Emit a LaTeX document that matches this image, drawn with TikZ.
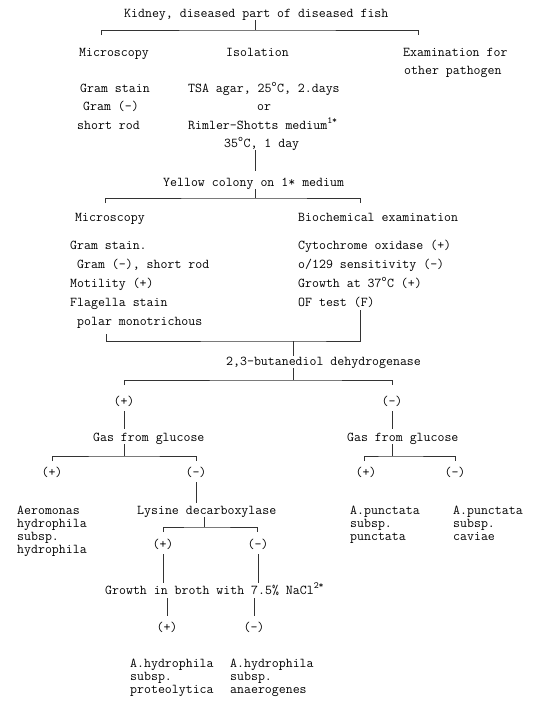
\documentclass[tikz,border=0pt]{standalone}
\usepackage{fontspec}

\begin{document}
\begin{tikzpicture}[x=1pt,y=-1pt,
  font=\ttfamily\fontsize{13.5}{15}\selectfont,
  txt/.style={inner sep=0pt,anchor=base west},
  ctr/.style={inner sep=0pt,anchor=base},
  link/.style={line width=.6pt,black!80}]
\useasboundingbox (0,0) rectangle (550,713);
\fill[white] (0,0) rectangle (550,713);

% sample and first split
\node[txt] (kidney) at (124,17) {Kidney, diseased part of diseased fish};
\node[txt] (micA) at (79,56) {Microscopy};
\node[txt] (iso) at (226,56) {Isolation};
\node[txt] (exam) at (403,56) {Examination for};
\node[txt] (examB) at (404,74) {other pathogen};
\coordinate (splitA) at (255,30);
\coordinate (tickA1) at (101,35);
\coordinate (tickA2) at (418,35);
\draw[link] (kidney.south -| splitA) -- (splitA);
\draw[link] (tickA1) |- (splitA) -| (tickA2);

% isolation
\node[txt] (gramA1) at (80,92) {Gram stain};
\node[txt] (gramA2) at (83,110) {Gram (-)};
\node[txt] (gramA3) at (77,129) {short rod};
\node[txt] (tsa) at (188,92) {TSA agar, 25\textsuperscript{o}C, 2.days};
\node[txt] (orr) at (257,110) {or};
\node[txt] (rimler) at (188,129) {Rimler-Shotts medium\textsuperscript{1*}};
\node[txt] (rimtemp) at (224,147) {35\textsuperscript{o}C, 1 day};
\node[txt] (yellow) at (163,186) {Yellow colony on 1* medium};
\draw[link,shorten >=6pt] (rimtemp.south -| splitA) -- (yellow.north -| splitA);

% second split
\coordinate (splitB) at (255,198);
\coordinate (tickB1) at (105,203);
\coordinate (tickB2) at (360,203);
\draw[link] (yellow.south -| splitB) -- (splitB);
\draw[link] (tickB1) |- (splitB) -| (tickB2);
\node[txt] (micB) at (75,221) {Microscopy};
\node[txt] (bio) at (298,221) {Biochemical examination};
\foreach \t/\x [count=\i] in {{Gram stain.}/70,{Gram (-), short rod}/77,
    {Motility (+)}/70,{Flagella stain}/70,{polar monotrichous}/77}
  \node[txt] (micR\i) at (\x,230+19*\i) {\t};
\foreach \t [count=\i] in {{Cytochrome oxidase (+)},{o/129 sensitivity (-)},
    {Growth at 37\textsuperscript{o}C (+)},{OF test (F)}}
  \node[txt] (bioR\i) at (298,230+19*\i) {\t};

% merge, 2,3-butanediol dehydrogenase
\coordinate (joinC) at (293,341);
\coordinate (tickC1) at (106,334);
\coordinate (tickC2) at (360,310);
\draw[link] (tickC1) |- (joinC) -| (tickC2);
\node[txt] (butane) at (226,365) {2,3-butanediol dehydrogenase};
\draw[link] (joinC) -- (butane.north -| joinC);
\coordinate (splitD) at (293,380);
\coordinate (tickD1) at (124,385);
\coordinate (tickD2) at (392,385);
\draw[link] (butane.south -| splitD) -- (splitD);
\draw[link] (tickD1) |- (splitD) -| (tickD2);
\node[ctr] (bdhPos) at (124,405) {(+)};
\node[ctr] (bdhNeg) at (392,405) {(-)};

% gas from glucose
\node[txt] (gasL) at (93,441) {Gas from glucose};
\node[txt] (gasR) at (347,441) {Gas from glucose};
\draw[link,shorten <=5pt,shorten >=3pt] (bdhPos.south) -- (gasL.north -| bdhPos);
\draw[link,shorten <=5pt,shorten >=3pt] (bdhNeg.south) -- (gasR.north -| bdhNeg);
\coordinate (splitE) at (124,456);
\coordinate (tickE1) at (52,461);
\coordinate (tickE2) at (196,461);
\draw[link] (gasL.south -| splitE) -- (splitE);
\draw[link] (tickE1) |- (splitE) -| (tickE2);
\coordinate (splitF) at (392,456);
\coordinate (tickF1) at (364,461);
\coordinate (tickF2) at (455,461);
\draw[link] (gasR.south -| splitF) -- (splitF);
\draw[link] (tickF1) |- (splitF) -| (tickF2);
\node[ctr] (gasLPos) at (52,476) {(+)};
\node[ctr] (gasLNeg) at (196,476) {(-)};
\node[ctr] (gasRPos) at (366,476) {(+)};
\node[ctr] (gasRNeg) at (455,476) {(-)};

% species, first level
\foreach \t [count=\i] in {Aeromonas,hydrophila,subsp.,hydrophila}
  \node[txt] (aerHyd\i) at (17,500.7+13.3*\i) {\t};
\foreach \t [count=\i] in {A.punctata,subsp.,punctata}
  \node[txt] (punPun\i) at (350,500.7+13.3*\i) {\t};
\foreach \t [count=\i] in {A.punctata,subsp.,caviae}
  \node[txt] (punCav\i) at (453,500.7+13.3*\i) {\t};

% lysine decarboxylase
\node[txt] (lysine) at (137,514) {Lysine decarboxylase};
\draw[link,shorten <=5pt,shorten >=3pt] (gasLNeg.south) -- (lysine.north -| gasLNeg);
\coordinate (splitG) at (204,527);
\coordinate (tickG1) at (163,532);
\coordinate (tickG2) at (257,532);
\draw[link] (lysine.south -| splitG) -- (splitG);
\draw[link] (tickG1) |- (splitG) -| (tickG2);
\node[ctr] (lysPos) at (163,548) {(+)};
\node[ctr] (lysNeg) at (258,548) {(-)};

% growth in NaCl broth
\node[txt] (growth) at (105,594) {Growth in broth with 7.5\% NaCl\textsuperscript{2*}};
\draw[link,shorten <=5pt] (lysPos.south) -- (growth.north -| lysPos);
\draw[link,shorten <=5pt] (lysNeg.south) -- (growth.north -| lysNeg);
\node[ctr] (naclPos) at (167,631) {(+)};
\node[ctr] (naclNeg) at (254,631) {(-)};
\draw[link,shorten <=3pt,shorten >=5pt] (growth.south -| naclPos) -- (naclPos.north);
\draw[link,shorten <=3pt,shorten >=5pt] (growth.south -| naclNeg) -- (naclNeg.north);

% species, last level
\foreach \t [count=\i] in {A.hydrophila,subsp.,proteolytica}
  \node[txt] (hydPro\i) at (130,653.7+13.3*\i) {\t};
\foreach \t [count=\i] in {A.hydrophila,subsp.,anaerogenes}
  \node[txt] (hydAna\i) at (230,653.7+13.3*\i) {\t};
\end{tikzpicture}
\end{document}
